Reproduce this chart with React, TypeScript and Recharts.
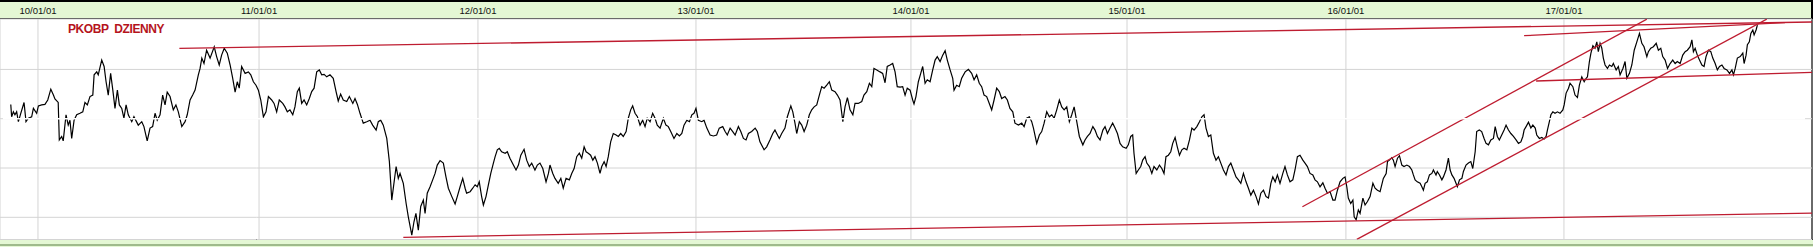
import { ComposedChart, Line, XAxis, YAxis, CartesianGrid } from "recharts";

// x is in years (10/01/01 = 2010), y is the close price
const tickYears = [2009.987, 2011.003, 2012.009, 2013.011, 2013.999, 2014.992, 2015.998, 2017.0];
const tickLabels = ["10/01/01", "11/01/01", "12/01/01", "13/01/01", "14/01/01", "15/01/01", "16/01/01", "17/01/01"];
const priceLevels = [20, 30, 40, 50];

const closes: [number, number][] = [
  [2009.862, 42.9], [2009.866, 40.4], [2009.874, 41.4], [2009.881, 40.8], [2009.889, 41.4], [2009.897, 39.4],
  [2009.908, 41.1], [2009.923, 43.3], [2009.932, 39.4], [2009.943, 40.1], [2009.958, 40.4], [2009.966, 42.1],
  [2009.981, 41.1], [2009.989, 42.6], [2010.004, 42.8], [2010.019, 42.9], [2010.032, 43.8], [2010.046, 46.0],
  [2010.058, 44.8], [2010.065, 44.0], [2010.08, 43.3], [2010.085, 35.7], [2010.096, 36.4], [2010.103, 35.5],
  [2010.116, 40.8], [2010.126, 38.7], [2010.134, 39.7], [2010.142, 36.0], [2010.153, 39.7], [2010.165, 40.8],
  [2010.18, 41.1], [2010.193, 41.4], [2010.203, 43.3], [2010.214, 42.8], [2010.226, 44.5], [2010.239, 44.8],
  [2010.245, 48.9], [2010.257, 49.5], [2010.264, 48.9], [2010.28, 51.9], [2010.291, 50.6], [2010.3, 47.5],
  [2010.31, 44.8], [2010.321, 49.2], [2010.331, 45.8], [2010.341, 42.1], [2010.352, 45.8], [2010.361, 42.8],
  [2010.372, 42.1], [2010.382, 40.1], [2010.392, 42.8], [2010.402, 40.8], [2010.418, 39.4], [2010.428, 40.4],
  [2010.448, 38.7], [2010.464, 39.4], [2010.474, 38.4], [2010.489, 35.5], [2010.502, 38.1], [2010.514, 38.4],
  [2010.525, 41.1], [2010.535, 39.7], [2010.548, 40.8], [2010.56, 44.8], [2010.571, 42.8], [2010.581, 45.4],
  [2010.594, 44.5], [2010.609, 41.8], [2010.621, 42.8], [2010.632, 41.4], [2010.648, 38.4], [2010.663, 39.4],
  [2010.673, 40.8], [2010.686, 43.8], [2010.698, 44.8], [2010.709, 45.8], [2010.724, 48.9], [2010.732, 50.2],
  [2010.74, 52.3], [2010.75, 51.2], [2010.762, 53.9], [2010.778, 52.3], [2010.797, 54.6], [2010.808, 52.6],
  [2010.82, 50.9], [2010.831, 52.9], [2010.843, 54.3], [2010.857, 53.3], [2010.87, 50.9], [2010.882, 48.2],
  [2010.893, 45.4], [2010.903, 47.5], [2010.912, 46.2], [2010.923, 50.6], [2010.939, 49.2], [2010.954, 49.5],
  [2010.965, 48.9], [2010.977, 47.5], [2010.989, 46.8], [2011.0, 45.8], [2011.011, 43.8], [2011.023, 40.4],
  [2011.035, 41.4], [2011.046, 44.5], [2011.061, 43.8], [2011.072, 43.1], [2011.084, 41.4], [2011.096, 43.8],
  [2011.112, 43.1], [2011.122, 42.4], [2011.133, 41.4], [2011.145, 41.8], [2011.158, 40.8], [2011.168, 42.4],
  [2011.179, 45.5], [2011.188, 46.2], [2011.199, 43.1], [2011.21, 43.8], [2011.222, 42.8], [2011.234, 44.1],
  [2011.245, 45.5], [2011.256, 46.2], [2011.268, 49.5], [2011.28, 49.9], [2011.291, 48.9], [2011.302, 49.0],
  [2011.314, 48.5], [2011.329, 48.9], [2011.344, 48.2], [2011.357, 45.5], [2011.367, 43.6], [2011.378, 45.0],
  [2011.39, 43.8], [2011.406, 43.5], [2011.418, 44.5], [2011.434, 43.1], [2011.444, 44.1], [2011.455, 42.9],
  [2011.467, 41.1], [2011.482, 39.1], [2011.498, 39.4], [2011.513, 39.7], [2011.525, 38.7], [2011.541, 37.7],
  [2011.551, 39.4], [2011.562, 39.7], [2011.574, 38.7], [2011.59, 36.0], [2011.602, 31.3], [2011.613, 23.5],
  [2011.62, 25.9], [2011.633, 30.3], [2011.643, 27.9], [2011.651, 28.9], [2011.666, 26.9], [2011.679, 22.8],
  [2011.689, 20.1], [2011.705, 16.4], [2011.715, 19.1], [2011.724, 20.8], [2011.735, 17.4], [2011.746, 22.2],
  [2011.758, 23.5], [2011.766, 20.8], [2011.776, 24.9], [2011.789, 26.2], [2011.801, 27.6], [2011.812, 28.9],
  [2011.822, 30.6], [2011.835, 31.5], [2011.85, 31.0], [2011.862, 28.2], [2011.873, 25.9], [2011.889, 24.2],
  [2011.904, 22.7], [2011.914, 24.2], [2011.927, 26.2], [2011.939, 27.9], [2011.95, 25.9], [2011.957, 24.9],
  [2011.973, 25.2], [2011.985, 25.9], [2011.996, 26.6], [2012.006, 26.2], [2012.015, 27.2], [2012.026, 24.2],
  [2012.034, 22.5], [2012.046, 24.2], [2012.057, 26.6], [2012.068, 28.9], [2012.08, 31.0], [2012.088, 32.3],
  [2012.098, 33.7], [2012.107, 34.0], [2012.118, 33.3], [2012.134, 33.0], [2012.144, 33.3], [2012.156, 32.0],
  [2012.172, 30.6], [2012.184, 29.6], [2012.195, 30.6], [2012.206, 32.6], [2012.221, 33.8], [2012.233, 31.6],
  [2012.245, 30.3], [2012.256, 31.0], [2012.271, 29.6], [2012.282, 30.6], [2012.294, 31.0], [2012.307, 29.9],
  [2012.322, 27.2], [2012.333, 28.9], [2012.34, 30.6], [2012.353, 28.9], [2012.363, 27.9], [2012.378, 26.9],
  [2012.39, 27.9], [2012.401, 25.9], [2012.414, 27.9], [2012.429, 27.6], [2012.44, 28.9], [2012.451, 29.9],
  [2012.463, 32.3], [2012.475, 33.0], [2012.486, 32.0], [2012.497, 34.3], [2012.506, 33.3], [2012.516, 33.0],
  [2012.527, 32.6], [2012.537, 31.6], [2012.547, 32.3], [2012.558, 31.0], [2012.57, 28.9], [2012.578, 30.3],
  [2012.589, 31.3], [2012.598, 30.3], [2012.608, 32.3], [2012.619, 35.3], [2012.631, 37.0], [2012.644, 36.7],
  [2012.654, 36.4], [2012.665, 37.0], [2012.677, 36.4], [2012.69, 37.4], [2012.7, 40.1], [2012.711, 41.8],
  [2012.72, 42.6], [2012.731, 41.1], [2012.742, 40.4], [2012.754, 38.7], [2012.766, 39.7], [2012.777, 38.4],
  [2012.787, 40.1], [2012.8, 39.4], [2012.812, 41.1], [2012.823, 40.1], [2012.833, 38.7], [2012.846, 38.1],
  [2012.861, 40.1], [2012.873, 38.7], [2012.884, 38.4], [2012.895, 37.4], [2012.91, 36.0], [2012.923, 37.0],
  [2012.935, 36.5], [2012.946, 37.0], [2012.956, 38.7], [2012.969, 39.7], [2012.981, 39.4], [2012.992, 40.8],
  [2013.002, 41.1], [2013.011, 42.1], [2013.022, 39.7], [2013.038, 39.4], [2013.048, 39.7], [2013.061, 38.1],
  [2013.076, 36.7], [2013.091, 36.5], [2013.106, 36.7], [2013.118, 38.1], [2013.134, 38.4], [2013.145, 37.4],
  [2013.155, 36.7], [2013.168, 38.1], [2013.18, 37.4], [2013.191, 36.7], [2013.206, 38.4], [2013.217, 37.4],
  [2013.229, 36.0], [2013.241, 35.7], [2013.252, 37.0], [2013.267, 37.4], [2013.283, 38.1], [2013.293, 37.4],
  [2013.305, 35.3], [2013.324, 33.7], [2013.336, 34.3], [2013.351, 35.7], [2013.364, 37.0], [2013.374, 37.7],
  [2013.382, 37.0], [2013.394, 36.0], [2013.405, 37.0], [2013.42, 38.1], [2013.431, 40.4], [2013.447, 42.6],
  [2013.456, 41.4], [2013.466, 39.1], [2013.474, 37.0], [2013.486, 39.4], [2013.497, 38.7], [2013.508, 37.4],
  [2013.52, 38.7], [2013.532, 40.8], [2013.543, 41.8], [2013.554, 42.4], [2013.566, 42.8], [2013.578, 44.8],
  [2013.589, 46.5], [2013.6, 46.2], [2013.612, 46.8], [2013.624, 47.5], [2013.635, 45.8], [2013.65, 45.5],
  [2013.661, 44.8], [2013.673, 43.8], [2013.686, 39.4], [2013.696, 42.4], [2013.707, 44.3], [2013.719, 41.8],
  [2013.732, 40.8], [2013.742, 43.1], [2013.757, 43.1], [2013.773, 43.5], [2013.783, 44.8], [2013.796, 45.5],
  [2013.808, 47.2], [2013.819, 46.5], [2013.829, 50.2], [2013.842, 49.9], [2013.857, 49.5], [2013.869, 49.2],
  [2013.88, 47.3], [2013.89, 50.6], [2013.903, 50.9], [2013.915, 51.2], [2013.926, 49.5], [2013.936, 46.5],
  [2013.949, 46.4], [2013.961, 46.5], [2013.972, 44.8], [2013.982, 46.2], [2013.995, 45.8], [2014.007, 43.8],
  [2014.013, 43.0], [2014.022, 44.5], [2014.033, 47.5], [2014.044, 49.2], [2014.053, 50.6], [2014.064, 47.2],
  [2014.074, 47.9], [2014.087, 47.5], [2014.099, 49.9], [2014.11, 51.9], [2014.12, 52.6], [2014.133, 51.6],
  [2014.145, 52.9], [2014.156, 53.8], [2014.166, 51.9], [2014.179, 49.9], [2014.191, 48.2], [2014.197, 45.8],
  [2014.209, 46.8], [2014.221, 46.5], [2014.232, 48.2], [2014.248, 49.5], [2014.263, 50.0], [2014.278, 49.2],
  [2014.289, 47.9], [2014.301, 48.9], [2014.313, 47.2], [2014.324, 46.5], [2014.335, 44.8], [2014.347, 44.5],
  [2014.359, 43.1], [2014.37, 41.8], [2014.381, 43.8], [2014.393, 46.2], [2014.405, 45.5], [2014.416, 44.1],
  [2014.431, 44.5], [2014.442, 43.8], [2014.454, 42.1], [2014.467, 41.4], [2014.477, 39.1], [2014.493, 38.7],
  [2014.508, 39.1], [2014.519, 38.4], [2014.531, 40.1], [2014.543, 40.4], [2014.554, 39.4], [2014.562, 38.1],
  [2014.577, 35.0], [2014.589, 36.7], [2014.6, 37.4], [2014.611, 39.1], [2014.623, 41.4], [2014.635, 40.4],
  [2014.646, 40.8], [2014.657, 40.1], [2014.669, 41.8], [2014.681, 43.8], [2014.692, 42.4], [2014.703, 41.8],
  [2014.715, 42.4], [2014.727, 39.4], [2014.738, 40.8], [2014.749, 42.4], [2014.761, 39.4], [2014.773, 36.4],
  [2014.789, 34.7], [2014.799, 35.7], [2014.81, 36.4], [2014.822, 37.0], [2014.835, 38.4], [2014.845, 37.7],
  [2014.856, 36.4], [2014.868, 35.7], [2014.881, 37.7], [2014.891, 38.4], [2014.902, 37.0], [2014.914, 38.1],
  [2014.926, 39.1], [2014.937, 38.1], [2014.948, 37.0], [2014.96, 35.0], [2014.972, 34.3], [2014.988, 34.0],
  [2014.998, 34.7], [2015.009, 36.4], [2015.018, 36.7], [2015.024, 33.0], [2015.034, 28.9], [2015.044, 29.6],
  [2015.055, 30.3], [2015.064, 31.6], [2015.075, 32.3], [2015.083, 31.0], [2015.095, 30.3], [2015.106, 28.9],
  [2015.116, 30.3], [2015.129, 29.6], [2015.141, 30.6], [2015.152, 29.9], [2015.162, 28.9], [2015.171, 32.3],
  [2015.182, 32.6], [2015.193, 33.3], [2015.202, 35.0], [2015.213, 36.2], [2015.223, 34.3], [2015.233, 32.6],
  [2015.244, 33.7], [2015.254, 34.0], [2015.267, 33.7], [2015.279, 35.7], [2015.29, 38.1], [2015.3, 37.7],
  [2015.313, 38.4], [2015.325, 39.4], [2015.336, 40.4], [2015.346, 40.8], [2015.355, 38.1], [2015.366, 36.4],
  [2015.377, 36.7], [2015.389, 33.0], [2015.401, 31.6], [2015.412, 32.3], [2015.423, 31.0], [2015.435, 29.6],
  [2015.447, 28.6], [2015.458, 30.3], [2015.469, 31.0], [2015.481, 29.6], [2015.493, 28.2], [2015.504, 27.6],
  [2015.515, 26.9], [2015.527, 28.9], [2015.539, 27.2], [2015.55, 25.9], [2015.561, 24.5], [2015.573, 25.5],
  [2015.585, 24.2], [2015.596, 22.7], [2015.607, 24.9], [2015.619, 25.5], [2015.631, 24.2], [2015.642, 23.9],
  [2015.653, 26.9], [2015.662, 28.2], [2015.673, 27.2], [2015.683, 28.6], [2015.695, 26.9], [2015.708, 28.9],
  [2015.718, 30.3], [2015.729, 28.6], [2015.741, 27.2], [2015.754, 27.6], [2015.764, 29.6], [2015.775, 32.3],
  [2015.787, 32.6], [2015.8, 31.6], [2015.81, 31.0], [2015.821, 30.3], [2015.833, 28.9], [2015.846, 28.6],
  [2015.856, 27.6], [2015.867, 27.2], [2015.879, 26.2], [2015.892, 27.0], [2015.902, 25.9], [2015.913, 24.9],
  [2015.925, 25.2], [2015.938, 23.5], [2015.948, 23.5], [2015.959, 25.5], [2015.971, 27.2], [2015.984, 27.9],
  [2015.994, 28.2], [2016.002, 26.2], [2016.009, 23.9], [2016.02, 22.8], [2016.03, 23.5], [2016.036, 20.1],
  [2016.045, 19.5], [2016.055, 21.5], [2016.063, 20.8], [2016.076, 23.9], [2016.086, 22.5], [2016.097, 23.2],
  [2016.109, 24.2], [2016.122, 26.9], [2016.132, 25.9], [2016.143, 25.5], [2016.155, 25.2], [2016.17, 27.9],
  [2016.183, 28.9], [2016.189, 31.3], [2016.198, 31.6], [2016.209, 32.1], [2016.216, 31.6], [2016.224, 30.3],
  [2016.235, 32.0], [2016.244, 32.5], [2016.255, 30.6], [2016.265, 30.3], [2016.278, 30.6], [2016.29, 30.3],
  [2016.301, 29.6], [2016.308, 28.6], [2016.316, 27.6], [2016.326, 27.2], [2016.339, 26.9], [2016.347, 26.2],
  [2016.354, 25.5], [2016.362, 26.9], [2016.372, 27.2], [2016.382, 28.6], [2016.393, 28.9], [2016.4, 29.6],
  [2016.412, 28.6], [2016.418, 29.3], [2016.428, 28.6], [2016.439, 27.6], [2016.446, 28.2], [2016.458, 29.6],
  [2016.469, 32.0], [2016.477, 29.6], [2016.485, 28.6], [2016.495, 27.9], [2016.504, 26.9], [2016.51, 26.2],
  [2016.52, 27.6], [2016.531, 27.9], [2016.538, 29.3], [2016.55, 30.6], [2016.561, 31.0], [2016.572, 31.3],
  [2016.581, 29.9], [2016.592, 33.3], [2016.599, 37.4], [2016.611, 37.7], [2016.622, 37.4], [2016.633, 36.0],
  [2016.642, 35.0], [2016.653, 34.7], [2016.664, 35.7], [2016.676, 36.0], [2016.684, 38.4], [2016.694, 36.4],
  [2016.703, 35.7], [2016.714, 36.7], [2016.725, 37.7], [2016.734, 38.7], [2016.745, 37.7], [2016.756, 37.0],
  [2016.768, 36.4], [2016.78, 35.7], [2016.791, 35.0], [2016.802, 35.3], [2016.811, 36.4], [2016.817, 37.7],
  [2016.826, 38.4], [2016.837, 39.3], [2016.848, 38.1], [2016.857, 38.7], [2016.868, 38.1], [2016.875, 36.7],
  [2016.887, 36.0], [2016.898, 36.2], [2016.909, 35.9], [2016.918, 36.4], [2016.924, 37.7], [2016.933, 39.4],
  [2016.94, 40.8], [2016.949, 41.4], [2016.959, 41.1], [2016.97, 41.4], [2016.982, 41.1], [2016.995, 41.8],
  [2017.001, 42.8], [2017.01, 45.2], [2017.021, 46.2], [2017.028, 47.2], [2017.041, 46.5], [2017.051, 44.8],
  [2017.062, 44.3], [2017.071, 46.8], [2017.082, 48.5], [2017.093, 47.5], [2017.102, 48.2], [2017.108, 48.5],
  [2017.117, 51.6], [2017.124, 53.3], [2017.133, 54.8], [2017.143, 54.3], [2017.151, 55.6], [2017.158, 53.6],
  [2017.166, 55.3], [2017.174, 54.3], [2017.181, 52.3], [2017.189, 50.9], [2017.2, 50.2], [2017.209, 50.9],
  [2017.22, 50.6], [2017.227, 51.2], [2017.24, 49.9], [2017.25, 50.6], [2017.258, 48.9], [2017.271, 50.2],
  [2017.281, 51.6], [2017.289, 48.2], [2017.301, 49.2], [2017.312, 50.9], [2017.323, 53.9], [2017.335, 55.6],
  [2017.347, 57.3], [2017.358, 55.3], [2017.368, 54.6], [2017.381, 52.6], [2017.388, 53.6], [2017.399, 54.3],
  [2017.411, 54.6], [2017.424, 55.3], [2017.434, 53.9], [2017.445, 54.3], [2017.454, 52.6], [2017.465, 51.9],
  [2017.476, 50.2], [2017.488, 51.2], [2017.5, 51.9], [2017.511, 51.2], [2017.521, 51.6], [2017.534, 51.2],
  [2017.546, 52.9], [2017.557, 53.6], [2017.567, 53.9], [2017.58, 54.6], [2017.588, 56.0], [2017.595, 53.6],
  [2017.603, 54.3], [2017.613, 52.9], [2017.623, 51.9], [2017.634, 50.9], [2017.644, 50.6], [2017.653, 52.6],
  [2017.664, 53.9], [2017.675, 53.6], [2017.684, 52.3], [2017.695, 51.2], [2017.705, 49.9], [2017.715, 50.6],
  [2017.726, 50.9], [2017.736, 50.2], [2017.749, 49.9], [2017.761, 49.2], [2017.772, 49.9], [2017.779, 48.9],
  [2017.787, 50.2], [2017.797, 52.3], [2017.81, 52.6], [2017.822, 53.3], [2017.828, 51.2], [2017.837, 52.9],
  [2017.843, 55.0], [2017.852, 55.6], [2017.859, 57.3], [2017.868, 58.0], [2017.874, 57.0], [2017.883, 58.0],
  [2017.889, 59.0],
];

// trend lines drawn on the chart: [start, end] as [year, price]
const trendLines: [number, number][][] = [
  [[2010.637, 54.28], [2018.14, 59.62]],
  [[2011.666, 15.95], [2018.14, 20.87]],
  [[2015.798, 22.15], [2017.381, 60.2]],
  [[2016.048, 15.54], [2017.932, 60.2]],
  [[2016.817, 56.84], [2018.016, 59.5]],
  [[2016.872, 47.65], [2018.14, 49.41]],
];

// the 40 grid level is painted over in white in the original
const maskLine: [number, number][] = [[2009.826, 40], [2018.108, 40]];

const xDomain = [2009.8125, 2018.14];
const yDomain = [15.5, 60.23];

const priceData = closes.map(([t, v]) => ({ t, v }));
const toSeg = (pts: [number, number][]) => pts.map(([t, v]) => ({ t, v }));

const font = "'Liberation Sans', Arial, sans-serif";

function HeaderTick(props: any) {
  const { x, index } = props;
  return (
    <text x={x} y={14} textAnchor="middle" fontSize={9.5} fontFamily={font} fill="#111">
      {tickLabels[index]}
    </text>
  );
}

export default function App() {
  return (
    <div style={{ position: "absolute", left: 0, top: 0, width: 1813, height: 247, background: "#fff", overflow: "hidden" }}>
      <div style={{ position: "absolute", left: 0, top: 0, width: 1813, height: 2, background: "#000" }} />
      <div style={{ position: "absolute", left: 0, top: 2, width: 1813, height: 16, background: "#e4f7d4" }} />
      <div style={{ position: "absolute", left: 0, top: 18, width: 1813, height: 1, background: "#000" }} />
      <div style={{ position: "absolute", left: 0, top: 239, width: 1813, height: 1, background: "#000" }} />
      <div style={{ position: "absolute", left: 0, top: 240, width: 1813, height: 7, background: "#e4f7d4" }} />
      <div style={{ position: "absolute", left: 0, top: 244, width: 1813, height: 2, background: "#9fba8c" }} />
      <div style={{ position: "absolute", left: 1811, top: 0, width: 2, height: 240, background: "#000" }} />
      <div style={{ position: "absolute", left: 0, top: 0 }}>
        <ComposedChart width={1813} height={247} margin={{ top: 0, right: 1, bottom: 7.5, left: 0 }}>
          <CartesianGrid stroke="#d4d4d4" strokeWidth={1} />
          <XAxis
            type="number"
            dataKey="t"
            orientation="top"
            height={19}
            domain={xDomain}
            ticks={tickYears}
            allowDataOverflow
            axisLine={false}
            tickLine={false}
            tick={<HeaderTick />}
            interval={0}
          />
          <YAxis hide type="number" domain={yDomain} ticks={priceLevels} allowDataOverflow />
          <Line
            data={priceData}
            dataKey="v"
            type="linear"
            stroke="#000"
            strokeWidth={1.2}
            dot={false}
            isAnimationActive={false}
          />
          {trendLines.map((seg, i) => (
            <Line
              key={i}
              data={toSeg(seg)}
              dataKey="v"
              type="linear"
              stroke="#be1c30"
              strokeWidth={1.3}
              dot={false}
              isAnimationActive={false}
            />
          ))}
          <Line
            data={toSeg(maskLine)}
            dataKey="v"
            type="linear"
            stroke="#fff"
            strokeWidth={1.6}
            dot={false}
            isAnimationActive={false}
          />
        </ComposedChart>
      </div>
      <div
        style={{
          position: "absolute",
          left: 68,
          top: 23,
          fontFamily: font,
          fontWeight: "bold",
          fontSize: 12,
          lineHeight: "12px",
          letterSpacing: "-0.4px",
          color: "#b5141c",
          whiteSpace: "pre",
        }}
      >
        PKOBP  DZIENNY
      </div>
    </div>
  );
}
